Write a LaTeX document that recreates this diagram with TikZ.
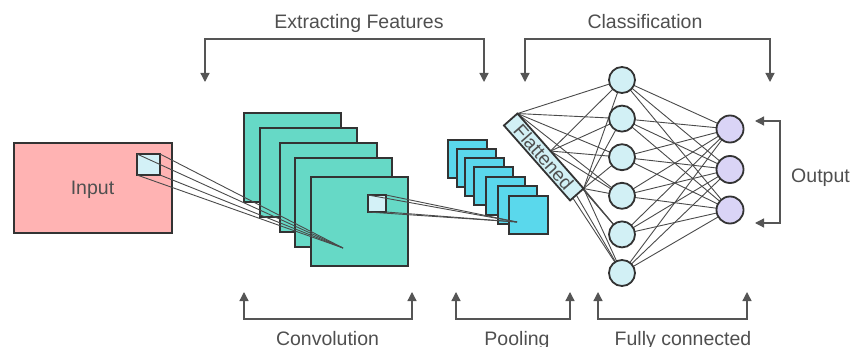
\documentclass[tikz,border=0pt]{standalone}
\usepackage{fontspec}
\setmainfont{Liberation Sans}
\usetikzlibrary{arrows.meta,backgrounds}
\definecolor{edgegray}{HTML}{333333}
\definecolor{wiregray}{HTML}{4A4A4A}
\definecolor{txtgray}{HTML}{4F4F4F}
\definecolor{brkgray}{HTML}{555555}
\definecolor{inputfill}{RGB}{255,179,179}
\definecolor{patchfill}{RGB}{211,241,247}
\definecolor{convfill}{RGB}{102,217,198}
\definecolor{poolfill}{RGB}{90,216,236}
\definecolor{hidfill}{RGB}{210,240,245}
\definecolor{outfill}{RGB}{218,212,246}
\begin{document}
\begin{tikzpicture}[x=1pt,y=-1pt,
  fnt/.style={font=\fontsize{19.5}{23}\selectfont, text=txtgray},
  shp/.style={draw=edgegray, line width=1.8pt, inner sep=0pt, outer sep=0pt},
  sq/.style={shp, anchor=north west},
  wire/.style={draw=wiregray, line width=0.9pt},
  brk/.style={draw=brkgray, line width=1.3pt, {Triangle[width=9pt,length=9pt]}-{Triangle[width=9pt,length=9pt]}},
  neuron/.style={shp, circle, minimum size=26pt, fill=hidfill},
  outn/.style={shp, circle, minimum size=27pt, fill=outfill},
  lbl/.style={fnt, anchor=base, inner sep=0pt}
]
\useasboundingbox (0,0) rectangle (851,347);

% input
\node[sq, fill=inputfill, minimum width=158pt, minimum height=90pt] (input) at (14,143) {};
\node[lbl] (inputlbl) at (92.5,195) {Input};
\node[sq, fill=patchfill, minimum width=23pt, minimum height=21pt] (inpatch) at (137,154) {};

% convolution maps
\foreach \x/\y [count=\i] in {243/112,259/127,279/142,294/157,310/176}
  \node[sq, fill=convfill, minimum width=97pt, minimum height=89pt] (conv\i) at (\x+1,\y+1) {};
\node[sq, fill=patchfill, minimum width=18pt, minimum height=17pt] (convpatch) at (368,195) {};
\coordinate (convfocus) at (343,248);
\foreach \a in {north west,north east,south east,south west}
  \draw[wire] (inpatch.\a) -- (convfocus);

% pooling maps
\foreach \x/\y [count=\i] in {447/139,456/148,464/157,473/166,485/176,497/185,508/195}
  \node[sq, fill=poolfill, minimum width=39pt, minimum height=38pt] (pool\i) at (\x+1,\y+1) {};
\coordinate (poolfocus) at (517,222);
\foreach \a in {north west,north east,south east,south west}
  \draw[wire] (convpatch.\a) -- (poolfocus);

% flattened
\node[shp, fill=hidfill, rotate=-48.6, minimum width=100pt, minimum height=18pt,
      font=\fontsize{19}{22}\selectfont, text=txtgray] (flat) at (543.75,157) {Flattened};

% hidden and output neurons
\foreach \i in {1,...,6}
  \node[neuron] (h\i) at (622,{80+(\i-1)*38.6}) {};
\node[outn] (o1) at (730,129) {};
\node[outn] (o2) at (730,169.5) {};
\node[outn] (o3) at (730,210) {};

\begin{scope}[on background layer]
  \foreach \i in {1,...,6} {
    \foreach \a in {north west,north,north east}
      \draw[wire] (flat.\a) -- (h\i);
    \foreach \j in {1,2,3}
      \draw[wire] (h\i) -- (o\j);
  }
\end{scope}

% brackets and labels
\coordinate (efL) at (205,82); \coordinate (efM) at (344,39); \coordinate (efR) at (484,82);
\draw[brk] (efL) |- (efM) -| (efR);
\node[lbl] (eflbl) at (359,29) {Extracting Features};

\coordinate (clL) at (525,82); \coordinate (clM) at (647,39); \coordinate (clR) at (770,82);
\draw[brk] (clL) |- (clM) -| (clR);
\node[lbl] (cllbl) at (645,29) {Classification};

\coordinate (cvL) at (244,292); \coordinate (cvM) at (328,319); \coordinate (cvR) at (412,292);
\draw[brk] (cvL) |- (cvM) -| (cvR);
\node[lbl] (cvlbl) at (327.5,345) {Convolution};

\coordinate (plL) at (456,292); \coordinate (plM) at (513,319); \coordinate (plR) at (570,292);
\draw[brk] (plL) |- (plM) -| (plR);
\node[lbl] (pllbl) at (517,345) {Pooling};

\coordinate (fcL) at (598,292); \coordinate (fcM) at (672,319); \coordinate (fcR) at (747,292);
\draw[brk] (fcL) |- (fcM) -| (fcR);
\node[lbl] (fclbl) at (683,345) {Fully connected};

\coordinate (otT) at (755,121); \coordinate (otM) at (780,172); \coordinate (otB) at (755,223);
\draw[brk] (otT) -| (otM) |- (otB);
\node[lbl] (otlbl) at (820.5,183) {Output};
\end{tikzpicture}
\end{document}
